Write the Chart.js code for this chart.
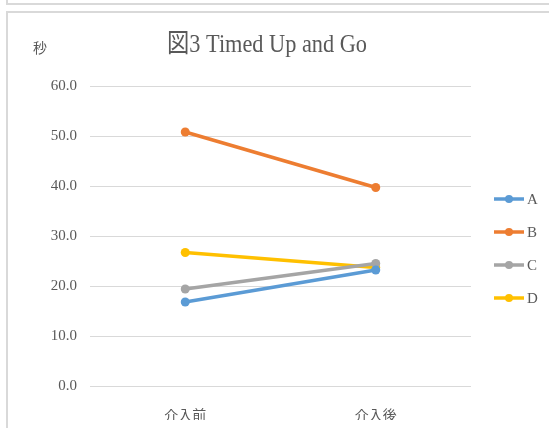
<!DOCTYPE html>
<html><head><meta charset="utf-8">
<script src="https://cdn.jsdelivr.net/npm/chart.js@4"></script>
<style>
html,body{margin:0;padding:0;background:#fff;}
#wrap{position:relative;width:549px;height:428px;overflow:hidden;}
canvas{position:absolute;left:0;top:0;}
.f{position:absolute;background:#d9d9d9;}
</style></head>
<body><div id="wrap">
<div class="f" style="left:6px;top:0;width:2px;height:5px"></div>
<div class="f" style="left:6px;top:3px;width:543px;height:2px"></div>
<div class="f" style="left:6px;top:11px;width:543px;height:2px"></div>
<div class="f" style="left:6px;top:11px;width:2px;height:417px"></div>
<canvas id="c" width="549" height="428"></canvas>
</div>
<script>
const categories = ['介入前', '介入後'];
const seriesNames = ['A', 'B', 'C', 'D'];
const seriesA = [16.8, 23.2];
const seriesB = [50.8, 39.7];
const seriesC = [19.4, 24.5];
const seriesD = [26.7, 23.7];
const yTicks = [0, 10, 20, 30, 40, 50, 60];
const titleText = '図3 Timed Up and Go';
const yUnit = '秒';
const colors = ['#5B9BD5', '#ED7D31', '#A5A5A5', '#FFC000'];
const values = [seriesA, seriesB, seriesC, seriesD];

const serif = '"Liberation Serif", "Noto Sans CJK JP", serif';
const textColor = '#595959';

const overlay = {
  id: 'overlay',
  afterDraw(chart) {
    const ctx = chart.ctx;
    ctx.save();
    // title
    ctx.fillStyle = textColor;
    ctx.textBaseline = 'middle';
    ctx.font = '26px ' + serif;
    const w = ctx.measureText(titleText).width;
    const sx = 200 / w;
    ctx.save();
    ctx.translate(267, 45);
    ctx.scale(Math.min(sx, 1), 1);
    ctx.textAlign = 'center';
    ctx.fillText(titleText, 0, 0);
    ctx.restore();
    // unit
    ctx.font = '14px ' + serif;
    ctx.textAlign = 'center';
    ctx.fillText(yUnit, 40, 49);
    // legend
    chart.data.datasets.forEach((ds, i) => {
      const y = 199 + i * 33;
      ctx.strokeStyle = ds.borderColor;
      ctx.lineWidth = 3.5;
      ctx.beginPath();
      ctx.moveTo(494, y);
      ctx.lineTo(524, y);
      ctx.stroke();
      ctx.fillStyle = ds.borderColor;
      ctx.beginPath();
      ctx.arc(509, y, 4, 0, Math.PI * 2);
      ctx.fill();
      ctx.fillStyle = textColor;
      ctx.textAlign = 'left';
      ctx.font = '15px ' + serif;
      ctx.fillText(ds.label, 527, y + 1);
    });
    ctx.restore();
  }
};

new Chart(document.getElementById('c'), {
  type: 'line',
  data: {
    labels: categories,
    datasets: seriesNames.map((n, i) => ({
      label: n,
      data: values[i],
      borderColor: colors[i],
      backgroundColor: colors[i],
      borderWidth: 3.5,
      pointRadius: 4.5,
      pointHoverRadius: 4.5,
      pointBorderWidth: 0,
      tension: 0
    }))
  },
  options: {
    responsive: false,
    animation: false,
    events: [],
    layout: { padding: { left: 40, right: 78, top: 86, bottom: 8 } },
    plugins: { legend: { display: false }, title: { display: false }, tooltip: { enabled: false } },
    scales: {
      x: {
        offset: true,
        grid: { display: false },
        border: { display: false },
        ticks: { color: textColor, padding: 14, font: { family: serif, size: 14 } },
        afterFit(s) { s.height = 34; }
      },
      y: {
        min: 0, max: 60,
        afterBuildTicks(s) { s.ticks = yTicks.map(v => ({ value: v })); },
        grid: { color: '#d9d9d9', lineWidth: 1, drawTicks: false },
        border: { display: false },
        ticks: {
          color: textColor, padding: 13,
          font: { family: serif, size: 15 },
          callback: v => Number(v).toFixed(1)
        },
        afterFit(s) { s.width = 50; }
      }
    }
  },
  plugins: [overlay]
});
</script>
</body></html>
